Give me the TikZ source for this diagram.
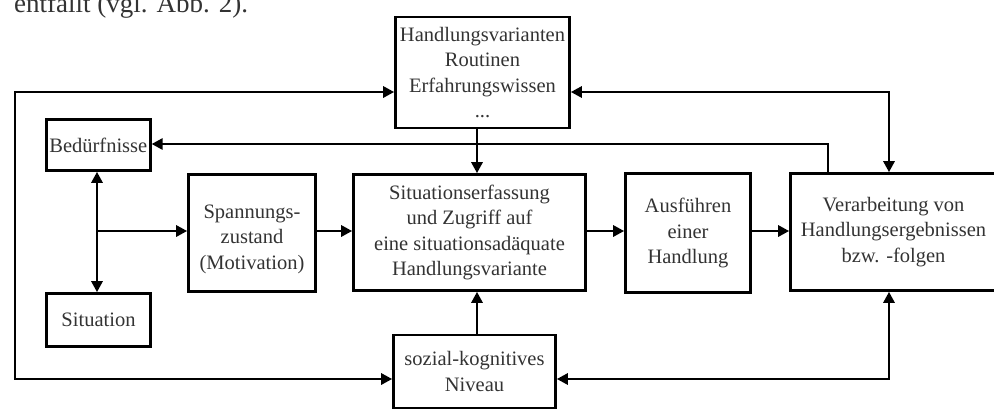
\documentclass[tikz,border=0pt]{standalone}
\usepackage{fontspec}
\setmainfont{Liberation Serif}
\usetikzlibrary{arrows.meta}
\definecolor{ink}{HTML}{333333}
\begin{document}
\begin{tikzpicture}[x=1pt,y=-1pt,
  >={Triangle[length=11pt,width=11pt]},
  box/.style={draw=black, line width=2.6pt, rectangle, align=center,
    inner sep=0pt, text=ink, font=\fontsize{20.5}{25.5}\selectfont},
  boxtext/.style={align=center, inner sep=0pt, text=ink,
    font=\fontsize{20.5}{25.5}\selectfont},
  link/.style={line width=2.8pt, draw=black}]
\useasboundingbox (0,0) rectangle (994,408);
\clip (0,0) rectangle (994,408);

% running text above the figure
\node[anchor=base west, inner sep=0pt, text=ink,
  font=\fontsize{27}{30}\selectfont] (caption) at (14,12) {entfällt (vgl. Abb. 2).};

% boxes
\node[box, minimum width=174pt, minimum height=111pt] (hv) at (482.5,72.5)
  {Handlungsvarianten\\Routinen\\Erfahrungswissen\\...};
\node[box, minimum width=104pt, minimum height=51pt] (bed) at (98.3,145) {Bedürfnisse};
\node[box, minimum width=104pt, minimum height=53pt] (sit) at (98.5,320) {Situation};
\node[box, minimum width=127pt, minimum height=117pt] (span) at (252,233) {};
\node[boxtext] (spantext) at ([yshift=-6pt]span.center) {Spannungs-\\zustand\\(Motivation)};
\node[box, minimum width=232pt, minimum height=116pt] (se) at (469.5,232.5)
  {Situationserfassung\\und Zugriff auf\\eine situationsadäquate\\Handlungsvariante};
\node[box, minimum width=125pt, minimum height=119pt] (aus) at (688,233)
  {Ausführen\\einer\\Handlung};
\node[box, minimum width=206pt, minimum height=117pt] (ver) at (893.5,232)
  {Verarbeitung von\\Handlungsergebnissen\\bzw. -folgen};
\node[box, minimum width=162pt, minimum height=73pt] (soz) at (474.5,371.5)
  {sozial-kognitives\\Niveau};

% bends of the outer loop and the fork
\coordinate (loopTL) at (15,92);
\coordinate (loopBL) at (15,379);
\coordinate (fork) at (97,231);

% connectors
\draw[link,<->] (hv.west |- 0,92) -- (loopTL) -- (loopBL) -- (soz.west |- 0,379);
\draw[link,<->] (hv.east |- 0,92) -| (ver.north -| 889,0);
\draw[link,->] (ver.north -| 828,0) |- (bed.east |- 0,144);
\draw[link,->] (hv.south -| 477,0) -- (se.north -| 477,0);
\draw[link,<->] (bed.south -| 97,0) -- (sit.north -| 97,0);
\draw[link,->] (fork) -- (span.west |- 0,231);
\draw[link,->] (span.east |- 0,231) -- (se.west |- 0,231);
\draw[link,->] (se.east |- 0,231) -- (aus.west |- 0,231);
\draw[link,->] (aus.east |- 0,231) -- (ver.west |- 0,231);
\draw[link,->] (soz.north -| 477,0) -- (se.south -| 477,0);
\draw[link,<->] (soz.east |- 0,379) -| (ver.south -| 889,0);
\end{tikzpicture}
\end{document}
